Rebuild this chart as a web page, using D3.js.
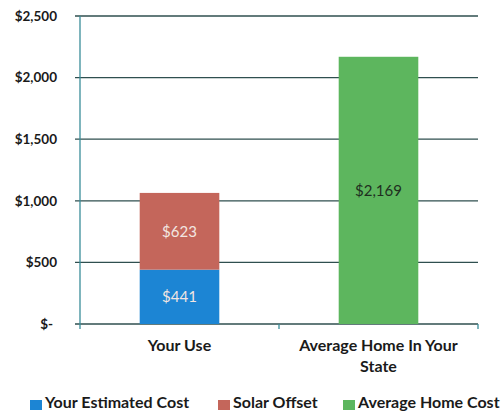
<!DOCTYPE html>
<html>
<head>
<meta charset="utf-8">
<script src="https://cdn.jsdelivr.net/npm/d3@7"></script>
<style>
  body { margin: 0; background: #fff; }
  text { font-family: Lato, "Open Sans", sans-serif; }
</style>
</head>
<body>
<svg id="chart" width="501" height="411"></svg>
<script>
// data
let categories = ["Your Use", "Average Home In Your State"];
let estimatedCost = [441, 0];
let solarOffset = [623, 0];
let averageHomeCost = [0, 2169];
let yTicks = [0, 500, 1000, 1500, 2000, 2500];
let seriesNames = ["Your Estimated Cost", "Solar Offset", "Average Home Cost"];
let seriesColors = ["#1c85d4", "#c4665b", "#5db65e"];

let svg = d3.select("#chart");

let margin = { left: 80, right: 23, top: 16, bottom: 87 };
let width = 501 - margin.left - margin.right;
let height = 411 - margin.top - margin.bottom;

let g = svg.append("g").attr("transform", `translate(${margin.left},${margin.top})`);

let x = d3.scaleBand().domain(categories).range([0, width]).paddingInner(0.6).paddingOuter(0.3);
let y = d3.scaleLinear().domain([0, 2500]).range([height, 0]);

// table for the stack
let rows = categories.map((c, i) => ({
    cat: c,
    "Your Estimated Cost": estimatedCost[i],
    "Solar Offset": solarOffset[i],
    "Average Home Cost": averageHomeCost[i]
}));
let stacked = d3.stack().keys(seriesNames)(rows);

let fmt = v => v === 0 ? "$-" : "$" + d3.format(",")(v);

// gridlines
g.append("g")
    .selectAll("line")
    .data(yTicks)
    .enter().append("line")
    .attr("x1", -5)
    .attr("x2", width)
    .attr("y1", d => y(d))
    .attr("y2", d => y(d))
    .attr("stroke", "#2f4f4f")
    .attr("stroke-width", 1.3);

// y labels
g.append("g")
    .selectAll("text")
    .data(yTicks)
    .enter().append("text")
    .attr("x", d => d === 0 ? -27 : -23)
    .attr("y", d => y(d))
    .attr("dy", "0.35em")
    .attr("text-anchor", "end")
    .attr("font-size", 13.5)
    .attr("font-weight", 700)
    .attr("fill", "#1a1a1a")
    .text(fmt);

// axis lines
g.append("line")
    .attr("x1", 0).attr("x2", 0)
    .attr("y1", 0).attr("y2", height)
    .attr("stroke", "#3a8d99").attr("stroke-width", 1.3);

g.append("g")
    .selectAll("line")
    .data([0, width / 2, width])
    .enter().append("line")
    .attr("x1", d => d).attr("x2", d => d)
    .attr("y1", height).attr("y2", height + 5)
    .attr("stroke", "#3a8d99").attr("stroke-width", 1.3);

// bars
let layers = g.append("g")
    .selectAll("g")
    .data(stacked)
    .enter().append("g")
    .attr("fill", (d, i) => seriesColors[i]);

layers.selectAll("rect")
    .data(d => d.map(p => ({ p: p, key: d.key })))
    .enter().append("rect")
    .attr("x", d => x(d.p.data.cat))
    .attr("width", x.bandwidth())
    .attr("y", d => y(d.p[1]))
    .attr("height", d => y(d.p[0]) - y(d.p[1]));

// value labels
layers.selectAll("text")
    .data(d => d.map(p => ({ p: p, key: d.key })).filter(d => d.p[1] - d.p[0] > 0))
    .enter().append("text")
    .attr("x", d => x(d.p.data.cat) + x.bandwidth() / 2)
    .attr("y", d => (y(d.p[0]) + y(d.p[1])) / 2)
    .attr("dy", "0.35em")
    .attr("text-anchor", "middle")
    .attr("font-size", 15)
    .attr("fill", d => d.key === "Average Home Cost" ? "#1f2f1f" : "#f2e6e2")
    .text(d => fmt(d.p[1] - d.p[0]));

// category labels
let catLabels = [["Your Use"], ["Average Home In Your", "State"]];
g.append("g")
    .selectAll("text")
    .data(categories)
    .enter().append("text")
    .attr("x", d => x(d) + x.bandwidth() / 2)
    .attr("y", height + 27)
    .attr("text-anchor", "middle")
    .attr("font-size", 16)
    .attr("font-weight", 700)
    .attr("fill", "#1a1a1a")
    .each(function(d, i) {
        d3.select(this).selectAll("tspan")
            .data(catLabels[i])
            .enter().append("tspan")
            .attr("x", x(d) + x.bandwidth() / 2)
            .attr("dy", (t, j) => j === 0 ? 0 : 21)
            .text(t => t);
    });

// legend
let legendX = [30, 218, 343];
let legend = svg.append("g")
    .selectAll("g")
    .data(seriesNames)
    .enter().append("g")
    .attr("transform", (d, i) => `translate(${legendX[i]},400)`);

legend.append("rect")
    .attr("width", 12).attr("height", 10)
    .attr("y", 0)
    .attr("fill", (d, i) => seriesColors[i]);

legend.append("text")
    .attr("x", 15)
    .attr("y", 8)
    .attr("font-size", 16)
    .attr("font-weight", 700)
    .attr("fill", "#1a1a1a")
    .text(d => d);
</script>
</body>
</html>
